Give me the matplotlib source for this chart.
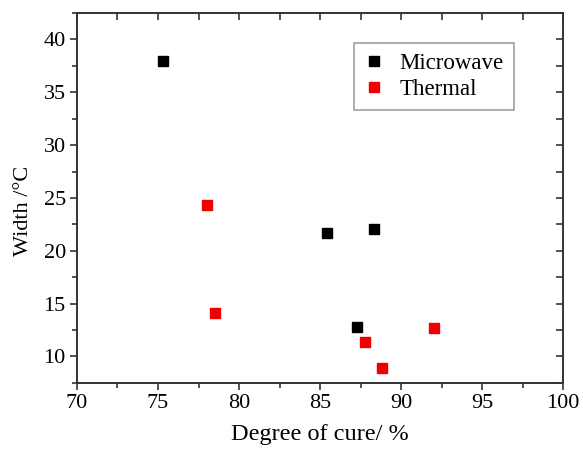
import matplotlib
matplotlib.use("Agg")
import matplotlib.pyplot as plt
from matplotlib.ticker import MultipleLocator

plt.rcParams['font.family'] = ['Liberation Serif', 'DejaVu Serif']
plt.rcParams['mathtext.fontset'] = 'stix'

# Degree of cure (%) and peak width (°C) for each curing method
microwave_cure = [75.3, 85.4, 88.3, 87.3]
microwave_width = [38.0, 21.7, 22.1, 12.8]
thermal_cure = [78.0, 78.5, 87.8, 88.8, 92.0]
thermal_width = [24.3, 14.1, 11.4, 8.9, 12.7]

spine_color = '#333333'

fig = plt.figure(figsize=(5.83, 4.51), dpi=100)
ax = fig.add_axes([0.132, 0.151, 0.834, 0.820])

ax.plot(microwave_cure, microwave_width, 's', color='black', markersize=7.2,
        linestyle='none', label='Microwave')
ax.plot(thermal_cure, thermal_width, 's', color='#ee0000', markersize=7.2,
        linestyle='none', label='Thermal')

ax.set_xlim(70, 100)
ax.set_ylim(7.5, 42.5)
ax.xaxis.set_major_locator(MultipleLocator(5))
ax.xaxis.set_minor_locator(MultipleLocator(2.5))
ax.yaxis.set_major_locator(MultipleLocator(5))
ax.yaxis.set_minor_locator(MultipleLocator(2.5))

for s in ax.spines.values():
    s.set_linewidth(1.4)
    s.set_color(spine_color)

ax.tick_params(which='major', direction='out', length=5, width=1.2,
               color=spine_color, labelsize=16, pad=3)
ax.tick_params(which='minor', direction='out', length=3.5, width=1.2,
               color=spine_color)

# Mirrored inward ticks on the top and right edges
top = ax.secondary_xaxis('top')
top.xaxis.set_major_locator(MultipleLocator(2.5))
top.tick_params(direction='in', length=5, width=1.2, color=spine_color,
                labeltop=False)
top.spines['top'].set_visible(False)
right = ax.secondary_yaxis('right')
right.yaxis.set_major_locator(MultipleLocator(2.5))
right.tick_params(direction='in', length=5, width=1.2, color=spine_color,
                  labelright=False)
right.spines['right'].set_visible(False)

ax.set_xlabel('Degree of cure/ %', fontsize=17.5, labelpad=8)
ax.set_ylabel('Width /°C', fontsize=16)
ax.yaxis.set_label_coords(-0.09, 0.465)

leg = ax.legend(loc='upper right', bbox_to_anchor=(0.898, 0.919), fontsize=16.5,
                frameon=True, fancybox=False, handlelength=0.8,
                handletextpad=0.7, borderpad=0.45, labelspacing=0.2,
                borderaxespad=0)
leg.get_frame().set_edgecolor('#888888')
leg.get_frame().set_linewidth(1.2)

fig.savefig('out.png', dpi=100)
